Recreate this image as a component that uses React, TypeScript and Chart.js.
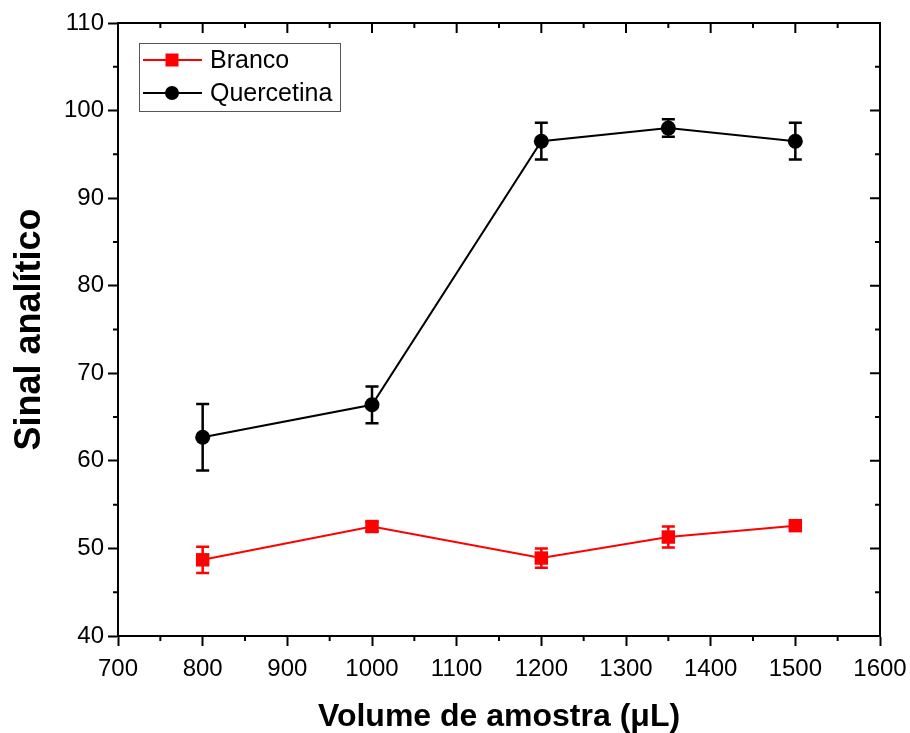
import { useEffect, useRef } from "react";
import { Chart, registerables } from "chart.js";

Chart.register(...registerables);

const volumes = [800, 1000, 1200, 1350, 1500];
const brancoValues = [48.7, 52.5, 48.9, 51.3, 52.6];
const brancoErrors = [1.5, 0.5, 1.1, 1.2, 0.3];
const quercetinaValues = [62.7, 66.4, 96.5, 98.0, 96.5];
const quercetinaErrors = [3.8, 2.1, 2.1, 1.0, 2.1];
const xTickLabels = [700, 800, 900, 1000, 1100, 1200, 1300, 1400, 1500, 1600];
const yTickLabels = [40, 50, 60, 70, 80, 90, 100, 110];
const seriesNames = ["Branco", "Quercetina"];

const FONT = "'Liberation Sans', Arial, Helvetica, sans-serif";

const errorBarPlugin = {
  id: "errorBars",
  beforeDatasetsDraw(chart: any) {
    const ctx = chart.ctx;
    const y = chart.scales.y;
    chart.data.datasets.forEach((ds: any, i: number) => {
      const meta = chart.getDatasetMeta(i);
      ctx.save();
      ctx.strokeStyle = ds.borderColor;
      ctx.lineWidth = 2.5;
      meta.data.forEach((pt: any, j: number) => {
        const v = ds.data[j].y;
        const e = ds.errors[j];
        const x = pt.x;
        const yt = y.getPixelForValue(v + e);
        const yb = y.getPixelForValue(v - e);
        ctx.beginPath();
        ctx.moveTo(x, yt);
        ctx.lineTo(x, yb);
        ctx.moveTo(x - 6.5, yt);
        ctx.lineTo(x + 6.5, yt);
        ctx.moveTo(x - 6.5, yb);
        ctx.lineTo(x + 6.5, yb);
        ctx.stroke();
      });
      ctx.restore();
    });
  },
};

const framePlugin = {
  id: "frame",
  afterDraw(chart: any) {
    const ctx = chart.ctx;
    const { left, right, top, bottom } = chart.chartArea;
    const xs = chart.scales.x;
    const ys = chart.scales.y;
    ctx.save();
    ctx.strokeStyle = "#000";
    ctx.lineWidth = 2;
    ctx.strokeRect(left, top, right - left, bottom - top);
    ctx.beginPath();
    for (let k = 0; k < xTickLabels.length; k++) {
      const v = xTickLabels[k];
      const px = xs.getPixelForValue(v);
      ctx.moveTo(px, top);
      ctx.lineTo(px, top + 10);
      if (k < xTickLabels.length - 1) {
        const mv = (v + xTickLabels[k + 1]) / 2;
        const mpx = xs.getPixelForValue(mv);
        ctx.moveTo(mpx, top);
        ctx.lineTo(mpx, top + 5);
        ctx.moveTo(mpx, bottom);
        ctx.lineTo(mpx, bottom + 5);
      }
    }
    for (let k = 0; k < yTickLabels.length; k++) {
      const v = yTickLabels[k];
      const py = ys.getPixelForValue(v);
      ctx.moveTo(right, py);
      ctx.lineTo(right - 10, py);
      if (k < yTickLabels.length - 1) {
        const mv = (v + yTickLabels[k + 1]) / 2;
        const mpy = ys.getPixelForValue(mv);
        ctx.moveTo(right, mpy);
        ctx.lineTo(right - 5, mpy);
        ctx.moveTo(left, mpy);
        ctx.lineTo(left - 5, mpy);
      }
    }
    ctx.stroke();
    ctx.restore();
  },
};

const legendPlugin = {
  id: "insideLegend",
  afterDraw(chart: any) {
    const ctx = chart.ctx;
    const bx = 139, by = 43, bw = 201, bh = 68;
    ctx.save();
    ctx.fillStyle = "#fff";
    ctx.fillRect(bx, by, bw, bh);
    ctx.strokeStyle = "#555";
    ctx.lineWidth = 1;
    ctx.strokeRect(bx + 0.5, by + 0.5, bw, bh);
    chart.data.datasets.forEach((ds: any, i: number) => {
      const cy = by + 17 + i * 33;
      ctx.strokeStyle = ds.borderColor;
      ctx.lineWidth = 2;
      ctx.beginPath();
      ctx.moveTo(bx + 4, cy);
      ctx.lineTo(bx + 63, cy);
      ctx.stroke();
      ctx.fillStyle = ds.backgroundColor;
      ctx.beginPath();
      if (ds.pointStyle === "rect") {
        const s = 6.5;
        ctx.rect(bx + 33 - s, cy - s, 2 * s, 2 * s);
      } else {
        ctx.arc(bx + 33, cy, 7, 0, Math.PI * 2);
      }
      ctx.fill();
      ctx.fillStyle = "#000";
      ctx.font = `25px ${FONT}`;
      ctx.textBaseline = "middle";
      ctx.textAlign = "left";
      ctx.fillText(ds.label, bx + 71, cy + 1);
    });
    ctx.restore();
  },
};

export default function App() {
  const canvasRef = useRef<HTMLCanvasElement | null>(null);

  useEffect(() => {
    document.body.style.margin = "0";
    const canvas = canvasRef.current;
    if (!canvas) return;
    const chart = new Chart(canvas, {
      type: "line",
      data: {
        datasets: [
          {
            label: seriesNames[0],
            data: volumes.map((x, i) => ({ x, y: brancoValues[i] })),
            errors: brancoErrors,
            borderColor: "#ff0000",
            backgroundColor: "#ff0000",
            borderWidth: 2,
            pointStyle: "rect",
            pointRadius: 9.5,
            pointHoverRadius: 9.5,
            pointBorderWidth: 0,
            tension: 0,
          } as any,
          {
            label: seriesNames[1],
            data: volumes.map((x, i) => ({ x, y: quercetinaValues[i] })),
            errors: quercetinaErrors,
            borderColor: "#000000",
            backgroundColor: "#000000",
            borderWidth: 2,
            pointStyle: "circle",
            pointRadius: 7.5,
            pointHoverRadius: 7.5,
            pointBorderWidth: 0,
            tension: 0,
          } as any,
        ],
      },
      options: {
        animation: false,
        responsive: false,
        maintainAspectRatio: false,
        events: [],
        layout: { padding: { top: 23, right: 30, left: 0, bottom: 0 } },
        plugins: {
          legend: { display: false },
          tooltip: { enabled: false },
        },
        scales: {
          x: {
            type: "linear",
            min: 700,
            max: 1600,
            afterBuildTicks: (s: any) => {
              s.ticks = xTickLabels.map((v) => ({ value: v }));
            },
            afterFit: (s: any) => {
              s.height = 97;
              s.paddingLeft = 0;
              s.paddingRight = 0;
            },
            ticks: {
              color: "#000",
              font: { family: FONT, size: 24 },
              padding: 9,
              maxRotation: 0,
              autoSkip: false,
              callback: (v: any) => String(v),
            },
            grid: {
              drawOnChartArea: false,
              drawTicks: true,
              tickLength: 10,
              tickWidth: 2,
              tickColor: "#000",
            },
            border: { display: true, color: "#000", width: 2 },
            title: {
              display: true,
              text: "Volume de amostra (μL)",
              color: "#000",
              font: { family: FONT, size: 32, weight: "bold" },
              padding: { top: 8, bottom: -3 },
            },
          },
          y: {
            type: "linear",
            min: 40,
            max: 110,
            afterBuildTicks: (s: any) => {
              s.ticks = yTickLabels.map((v) => ({ value: v }));
            },
            afterFit: (s: any) => {
              s.width = 118;
              s.paddingTop = 0;
              s.paddingBottom = 0;
            },
            ticks: {
              color: "#000",
              font: { family: FONT, size: 24 },
              padding: 4,
              autoSkip: false,
              callback: (v: any) => String(v),
            },
            grid: {
              drawOnChartArea: false,
              drawTicks: true,
              tickLength: 10,
              tickWidth: 2,
              tickColor: "#000",
            },
            border: { display: true, color: "#000", width: 2 },
            title: {
              display: true,
              text: "Sinal analítico",
              color: "#000",
              font: { family: FONT, size: 36, weight: "bold" },
              padding: { top: 8, bottom: 0 },
            },
          },
        },
      } as any,
      plugins: [errorBarPlugin, framePlugin, legendPlugin],
    });
    return () => chart.destroy();
  }, []);

  return (
    <div style={{ width: 910, height: 733, position: "relative", background: "#fff" }}>
      <canvas ref={canvasRef} width={910} height={733} style={{ width: 910, height: 733, display: "block" }} />
    </div>
  );
}
